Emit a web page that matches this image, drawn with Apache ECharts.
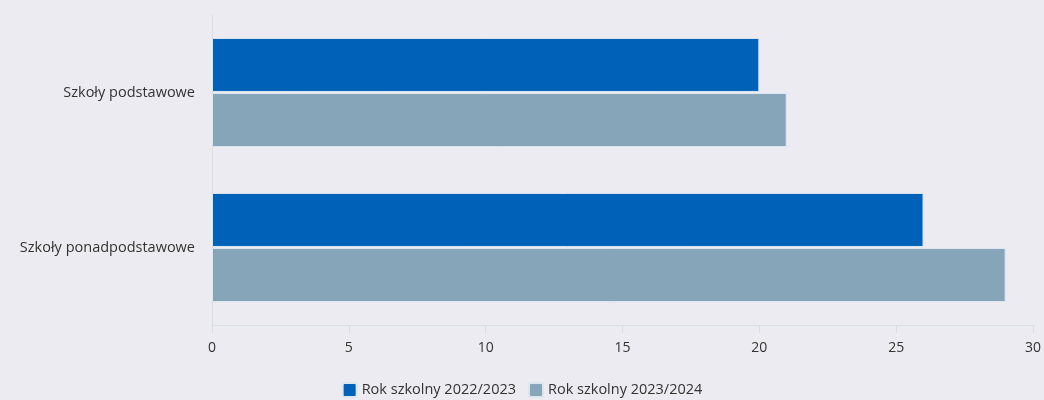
<!DOCTYPE html>
<html><head><meta charset="utf-8">
<script src="https://cdn.jsdelivr.net/npm/echarts@6/dist/echarts.min.js"></script>
<style>html,body{margin:0;padding:0;background:#ecebf1;}#c{width:1044px;height:400px;}</style>
</head><body><div id="c"></div>
<script>
const categories = ['Szkoły podstawowe', 'Szkoły ponadpodstawowe'];
const seriesNames = ['Rok szkolny 2022/2023', 'Rok szkolny 2023/2024'];
const values2022 = [20, 26];
const values2023 = [21, 29];
const xTicks = [0, 5, 10, 15, 20, 25, 30];

const chart = echarts.init(document.getElementById('c'));
const font = 'Open Sans';
chart.setOption({
  backgroundColor: '#ecebf1',
  animation: false,
  textStyle: { fontFamily: font },
  grid: { left: 212, right: 11, top: 15, bottom: 75, containLabel: false },
  legend: {
    top: 377, left: 'center', itemWidth: 14, itemHeight: 14, itemGap: 12,
    icon: 'path://M2,0 L12,0 Q14,0 14,2 L14,12 Q14,14 12,14 L2,14 Q0,14 0,12 L0,2 Q0,0 2,0 Z',
    textStyle: { color: '#333', fontSize: 14.5, fontFamily: font },
    data: seriesNames
  },
  xAxis: {
    type: 'value', min: xTicks[0], max: xTicks[xTicks.length - 1], interval: 5,
    axisLine: { show: true, lineStyle: { color: '#d8dfe3' } },
    axisTick: { show: true, length: 8, lineStyle: { color: '#d8dfe3' } },
    splitLine: { show: false },
    axisLabel: { color: '#333', fontSize: 14, margin: 16 }
  },
  yAxis: {
    type: 'category', data: categories, inverse: true,
    axisLine: { show: true, lineStyle: { color: '#d8dfe3' } },
    axisTick: { show: false },
    axisLabel: { color: '#333', fontSize: 14.5, margin: 17 }
  },
  series: [
    { name: seriesNames[0], type: 'bar', data: values2022, barWidth: 54, barGap: '2%',
      itemStyle: { color: '#0061b9', borderColor: '#dce6ef', borderWidth: 1 } },
    { name: seriesNames[1], type: 'bar', data: values2023, barWidth: 54,
      itemStyle: { color: '#87a5b9', borderColor: '#dce6ef', borderWidth: 1 } }
  ]
});
</script></body></html>
